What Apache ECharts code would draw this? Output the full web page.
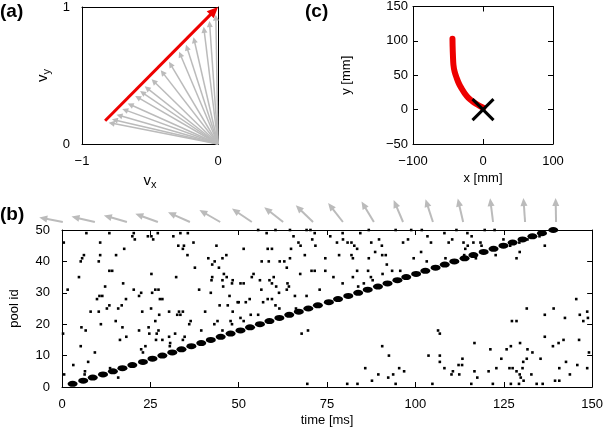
<!DOCTYPE html>
<html><head><meta charset="utf-8">
<script src="https://cdn.jsdelivr.net/npm/echarts@6/dist/echarts.min.js"></script>
<style>html,body{margin:0;padding:0;background:#fff}#c{width:606px;height:428px}</style>
</head><body><div id="c"></div>
<script>
// ---------- Panel (a): velocity vectors ----------
const aTips = [[-0.804,0.156],[-0.780,0.180],[-0.746,0.214],[-0.704,0.256],[-0.664,0.296],[-0.609,0.351],[-0.573,0.387],[-0.539,0.421],[-0.488,0.472],[-0.421,0.539],[-0.360,0.600],[-0.286,0.674],[-0.235,0.725],[-0.180,0.780],[-0.105,0.855],[-0.063,0.897],[-0.016,0.944]];
const aRed = [[-0.83,0.17,0,1]];
const aTicksX = [-1,0];
const aTicksY = [0,1];

// ---------- Panel (c): hand trajectory ----------
const cTrajX = [-43.6,-43.4,-43.0,-42.2,-40.5,-37.4,-34.2,-30.3,-25.8,-20.9,-15.5,-10.0,-5.0,0.5];
const cTrajY = [103,92,80,65,55,45.5,37.5,30.3,23.2,17.1,12.5,8.5,5.5,2.8];
const cTarget = [[0,0]];

// ---------- Panel (b): raster ----------
const arrowTime = [1.9,10.8,19.7,28.3,37.2,45.6,54.4,63.1,71.4,79.7,88.3,96.4,104.7,113.1,121.4,130.3,138.9];
const arrowAngle = [169,167,164,160,156,150,146,142,136,128,121,113,108,103,97,94,91];

const diagPool = [1,2,3,4,5,6,7,8,9,10,11,12,13,14,15,16,17,18,19,20,21,22,23,24,25,26,27,28,29,30,31,32,33,34,35,36,37,38,39,40,41,42,43,44,45,46,47,48,49,50];
const diagTime = [3.0,6.0,8.7,11.6,14.4,17.1,19.9,22.9,25.6,28.4,31.2,33.8,36.6,39.4,42.1,44.9,47.7,50.5,53.2,56.0,58.7,61.5,64.3,67.0,69.7,72.4,75.5,78.1,81.0,83.8,86.5,89.4,92.1,94.9,97.4,100.2,102.8,105.7,108.3,111.0,113.9,116.4,119.3,122.1,124.9,127.5,130.3,133.1,135.8,139.0];

// scattered spikes: [time (ms), pool id]
const spikes = [
[6.9,49],[13.4,49],[20.3,49],[19.9,48],[20.6,47],[24.3,48],[25.3,48],[25.8,47],[27.1,49],[31.5,48],[33.5,49],[35.6,49],
[0.5,46],[10.8,46],[17.6,44],[32.9,45],[34.2,44],[34.5,45],[37.2,46],[43.7,45],[6.2,42],[10.8,42],[5.7,41],[5.3,40],
[15.3,42],[35.5,42],[10.4,40],[41.4,41],[42.5,39],[43.2,40],[45.4,41],[46.5,42],[4.8,35],[13.4,37],[14.2,37],[25.3,36],
[32.3,35],[37.6,38],[42.5,35],[42.3,34],[44.4,38],[45.8,36],[46.6,35],[45.4,34],[48.3,34],[48.1,33],[12.2,32],[17.3,33],
[1.6,31],[20.3,31],[26.4,31],[27.3,31],[25.5,30],[27.7,28],[28.4,28],[21.8,29],[22.4,30],[9.9,28],[10.6,29],[11.4,29],
[18.1,28],[38.8,31],[42.1,30],[45.6,32],[47.4,29],[49.7,27],[12.7,25],[13.4,26],[16.9,26],[44.6,26],[46.9,26],
[55.5,50],[57.9,49],[60.4,50],[64.5,50],[69.2,50],[70.3,50],[71.5,49],[79.4,49],[84.4,49],[86.8,50],[94.4,50],[98.8,50],
[65.5,48],[66.9,46],[67.5,45],[70.8,47],[71.7,45],[75.9,48],[77.8,46],[79.5,47],[80.8,46],[81.9,46],[82.7,45],[83.5,44],
[87.5,46],[89.7,47],[90.5,45],[96.5,46],[97.9,47],[51.4,44],[58.2,44],[59.4,44],[64.8,44],[68.7,42],[74.5,41],[78.4,42],
[81.9,42],[82.3,41],[86.8,41],[88.6,43],[90.6,42],[91.6,42],[99.5,41],[56.5,40],[58.5,40],[61.6,40],[62.9,40],[64.5,41],
[63.6,38],[54.2,36],[53.7,35],[56.0,34],[58.7,34],[59.9,35],[67.4,36],[70.6,37],[71.5,37],[74.5,37],[76.8,35],[82.3,35],
[83.5,37],[86.6,37],[87.4,35],[87.9,34],[90.7,36],[91.9,39],[93.4,37],[95.7,37],[50.5,33],[51.4,33],[56.4,31],[59.4,33],
[60.6,32],[61.4,30],[63.8,33],[64.2,32],[63.6,31],[72.9,31],[79.4,33],[83.8,32],[85.4,33],[50.0,27],[52.0,27],[53.1,28],
[56.9,27],[58.2,28],[59.4,28],[65.9,29],[69.2,29],[60.4,26],[66.2,25],
[101.8,50],[108.2,49],[111.6,50],[114.7,49],[115.9,48],[119.6,50],[122.4,50],[103.4,48],[104.4,46],[109.4,46],[110.4,47],
[113.6,46],[114.8,45],[114.1,44],[116.4,46],[118.4,46],[118.7,45],[124.9,47],[126.8,45],[129.4,46],[131.7,47],[135.1,48],
[136.6,45],[101.6,43],[103.2,40],[108.5,41],[113.8,42],[129.5,43],[128.6,41],[122.7,42],[117.1,41],[145.5,28],
[8.1,24],[10.4,24],[15.9,25],[22.7,24],[25.2,25],[27.5,23],[30.3,24],[33.1,24],[33.5,23],[34.2,24],[32.6,23],[40.5,24],[48.3,24],
[5.5,19],[6.7,18],[11.0,20],[15.2,21],[17.1,19],[18.2,16],[16.4,15],[21.8,18],[24.5,19],[24.7,17],[26.4,21],[26.8,17],
[27.3,18],[26.6,15],[28.4,15],[30.3,16],[30.6,14],[30.5,13],[32.0,17],[34.2,15],[36.0,20],[36.4,21],[34.7,16],[39.4,18],
[43.1,20],[44.0,21],[45.4,18],[47.7,21],[48.1,20],[5.3,13],[3.2,7],[7.4,8],[9.3,11],[22.4,12],[22.9,11],[23.6,13],
[13.6,6],[15.9,3],[6.5,5],[6.4,4],[0.6,4],[0.3,17],
[50.5,22],[51.4,21],[53.4,23],[55.5,23],[61.5,25],[67.8,17],[69.6,18],[90.6,13],[92.5,10],[85.8,6],[89.5,4],[87.7,2],
[92.3,3],[93.7,4],[95.4,6],[96.8,5],[94.4,1],[69.4,1],[80.7,1],[83.6,1],
[131.5,25],[139.1,25],[136.6,23],[142.3,22],[127.3,21],[128.6,21],[146.5,23],[148.6,24],[148.8,22],[147.5,21],
[106.4,18],[106.9,17],[116.7,14],[121.2,12],[125.8,12],[127.0,13],[129.6,14],[131.7,12],[133.1,11],[136.6,16],[138.9,13],
[140.5,14],[141.9,15],[146.3,15],[149.1,11],[103.7,10],[106.9,10],[106.9,8],[108.2,6],[113.3,9],[113.2,7],[112.2,7],
[110.6,5],[110.2,4],[112.4,4],[116.7,5],[117.5,3],[120.7,5],[122.9,6],[124.3,9],[126.6,6],[127.5,6],[128.6,5],[130.3,6],
[130.5,8],[131.5,9],[129.5,4],[129.8,3],[130.6,2],[132.8,4],[135.4,9],[139.5,2],[140.7,6],[140.7,2],[142.6,8],[143.7,4],
[145.8,7],[148.6,6],[115.8,1],[121.9,1],[127.0,1],[129.3,1],[134.3,1],[136.0,1],[104.8,1]
];
const bTicksX = [0,25,50,75,100,125,150];
const bTicksY = [0,10,20,30,40,50];

// ---------- styles ----------
const FONT = '"Liberation Sans", Arial, Helvetica, sans-serif';
const RED = '#ee0000';
const GRAY = '#bbbbbb';
function minus(v){ return v < 0 ? '\u2212' + Math.abs(v) : String(v); }

function arrowEls(x0,y0,x1,y1,hl,hw,color,lw){
  const dx=x1-x0, dy=y1-y0, L=Math.hypot(dx,dy), ux=dx/L, uy=dy/L;
  const bx=x1-ux*hl, by=y1-uy*hl, px=-uy, py=ux;
  return [
    {type:'line', shape:{x1:x0,y1:y0,x2:bx+ux*1,y2:by+uy*1}, style:{stroke:color,lineWidth:lw}},
    {type:'polygon', shape:{points:[[x1,y1],[bx+px*hw,by+py*hw],[bx-px*hw,by-py*hw]]}, style:{fill:color}}
  ];
}

const lab = {color:'#000', fontSize:13, fontFamily:FONT};
function boxAxis(gi, pos, min, max, interval, opts){
  return Object.assign({
    gridIndex:gi, type:'value', position:pos, min:min, max:max, interval:interval,
    splitLine:{show:false},
    axisLine:{show:true, onZero:false, lineStyle:{color:'#000', width:1}},
    axisTick:{show:true, inside:true, length:5, lineStyle:{color:'#000', width:1}},
    axisLabel:{show:false}
  }, opts||{});
}

const chart = echarts.init(document.getElementById('c'), null, {renderer:'canvas'});
const titleStyle = {fontSize:19, fontWeight:'bold', color:'#000', fontFamily:FONT};
const option = {
  animation:false,
  backgroundColor:'#fff',
  textStyle:{fontFamily:FONT},
  title:[
    {text:'(a)', left:0, top:2, padding:0, textStyle:titleStyle},
    {text:'(c)', left:305, top:2, padding:0, textStyle:titleStyle},
    {text:'(b)', left:0, top:205, padding:0, textStyle:titleStyle}
  ],
  grid:[
    {left:82, top:7, width:136, height:137},
    {left:413, top:3, width:140, height:141},
    {left:56, top:230, width:540, height:157},
    {left:56, top:190, width:540, height:32}
  ],
  xAxis:[
    boxAxis(0,'bottom',aTicksX[0],aTicksX[1],1,{axisTick:{show:false},
      axisLabel:{show:true, margin:11, formatter:minus, ...lab},
      name:'{v|v}{s|x}', nameLocation:'middle', nameGap:28,
      nameTextStyle:{rich:{v:{fontSize:15,color:'#000',fontFamily:FONT}, s:{fontSize:11,color:'#000',fontFamily:FONT,padding:[7,0,0,0]}}}}),
    boxAxis(0,'top',-1,0,1,{axisTick:{show:false}}),
    boxAxis(1,'bottom',-100,100,100,{axisLabel:{show:true, margin:11, formatter:minus, ...lab},
      name:'x [mm]', nameLocation:'middle', nameGap:28, nameTextStyle:lab}),
    boxAxis(1,'top',-100,100,100),
    boxAxis(2,'bottom',bTicksX[0],bTicksX[bTicksX.length-1],25,{axisLabel:{show:true, margin:11, ...lab},
      name:'time [ms]', nameLocation:'middle', nameGap:27, nameTextStyle:lab}),
    boxAxis(2,'top',0,150,25),
    {gridIndex:3, type:'value', min:0, max:150, show:false}
  ],
  yAxis:[
    boxAxis(0,'left',aTicksY[0],aTicksY[1],1,{axisTick:{show:false},
      axisLabel:{show:true, margin:12, ...lab},
      name:'{v|v}{s|y}', nameLocation:'middle', nameGap:30, nameRotate:90,
      nameTextStyle:{rich:{v:{fontSize:15,color:'#000',fontFamily:FONT}, s:{fontSize:11,color:'#000',fontFamily:FONT,padding:[7,0,0,0]}}}}),
    boxAxis(0,'right',0,1,1,{axisTick:{show:false}}),
    boxAxis(1,'left',-50,150,50,{axisLabel:{show:true, margin:5, formatter:minus, ...lab},
      name:'y [mm]', nameLocation:'middle', nameGap:60, nameRotate:90, nameTextStyle:lab}),
    boxAxis(1,'right',-50,150,50),
    boxAxis(2,'left',bTicksY[0],bTicksY[bTicksY.length-1],10,{axisLabel:{show:true, margin:12, ...lab},
      name:'pool id', nameLocation:'middle', nameGap:41, nameRotate:90, nameTextStyle:lab}),
    boxAxis(2,'right',0,50,10),
    {gridIndex:3, type:'value', min:0, max:1, show:false}
  ],
  series:[
    {type:'custom', xAxisIndex:0, yAxisIndex:0, data:aTips, z:2,
      renderItem:function(params, api){
        const o = api.coord([0,0]); const t = api.coord([api.value(0), api.value(1)]);
        return {type:'group', children:arrowEls(o[0],o[1],t[0],t[1],6,3,GRAY,1.5)};
      }},
    {type:'custom', xAxisIndex:0, yAxisIndex:0, data:aRed, z:3,
      renderItem:function(params, api){
        const s = api.coord([api.value(0), api.value(1)]); const e = api.coord([api.value(2), api.value(3)]);
        return {type:'group', children:arrowEls(s[0],s[1],e[0],e[1],11,5,RED,3)};
      }},
    {type:'line', xAxisIndex:2, yAxisIndex:2, data:cTrajX.map((x,i)=>[x,cTrajY[i]]),
      symbol:'none', smooth:0.4, lineStyle:{color:RED, width:6, cap:'round', join:'round'}, z:2},
    {type:'custom', xAxisIndex:2, yAxisIndex:2, data:cTarget, z:3,
      renderItem:function(params, api){
        const p = api.coord([api.value(0), api.value(1)]); const r = 10.5;
        const st = {stroke:'#000', lineWidth:3};
        return {type:'group', children:[
          {type:'line', shape:{x1:p[0]-r,y1:p[1]-r,x2:p[0]+r,y2:p[1]+r}, style:st},
          {type:'line', shape:{x1:p[0]-r,y1:p[1]+r,x2:p[0]+r,y2:p[1]-r}, style:st}
        ]};
      }},
    {type:'scatter', xAxisIndex:4, yAxisIndex:4, data:spikes, symbol:'rect', symbolSize:2.6,
      itemStyle:{color:'#000', opacity:1}, z:2},
    {type:'scatter', xAxisIndex:4, yAxisIndex:4, data:diagTime.map((t,i)=>[t,diagPool[i]]), symbol:'circle', symbolSize:[10,6],
      itemStyle:{color:'#000', opacity:1}, z:3},
    {type:'custom', xAxisIndex:6, yAxisIndex:6, data:arrowTime.map((t,i)=>[t,arrowAngle[i]]), z:2,
      renderItem:function(params, api){
        const p = api.coord([api.value(0), 0]); const a = api.value(1)*Math.PI/180; const L = 24;
        return {type:'group', children:arrowEls(p[0],p[1],p[0]+L*Math.cos(a),p[1]-L*Math.sin(a),8,3.5,GRAY,2)};
      }}
  ]
};
chart.setOption(option);
</script>
</body></html>
